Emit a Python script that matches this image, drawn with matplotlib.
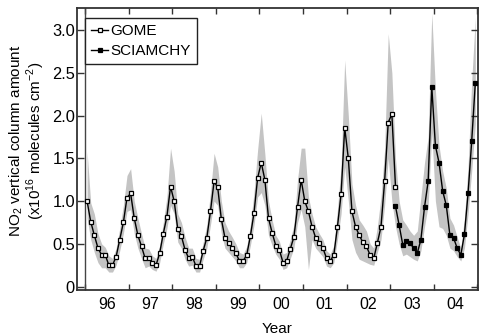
import numpy as np
import matplotlib
matplotlib.use("Agg")
import matplotlib.pyplot as plt

plt.rcParams['font.family'] = ['Liberation Sans', 'DejaVu Sans']
plt.rcParams['mathtext.fontset'] = 'custom'
plt.rcParams['mathtext.rm'] = 'Liberation Sans'

# monthly NO2 columns (1e16 molec/cm2)
gome_start = 1996  # Jan 1996
gome = [
    1.00, 0.76, 0.60, 0.45, 0.37, 0.37, 0.25, 0.25, 0.35, 0.55, 0.75, 1.04,   # 1996
    1.09, 0.80, 0.60, 0.47, 0.33, 0.34, 0.28, 0.25, 0.39, 0.62, 0.82, 1.17,   # 1997
    1.00, 0.67, 0.59, 0.43, 0.33, 0.35, 0.24, 0.24, 0.42, 0.57, 0.88, 1.23,   # 1998
    1.16, 0.79, 0.57, 0.51, 0.45, 0.39, 0.30, 0.30, 0.37, 0.59, 0.86, 1.27,   # 1999
    1.45, 1.25, 0.80, 0.63, 0.48, 0.43, 0.28, 0.30, 0.44, 0.58, 0.93, 1.25,   # 2000
    1.00, 0.88, 0.70, 0.57, 0.51, 0.45, 0.33, 0.30, 0.37, 0.70, 1.08, 1.86,   # 2001
    1.50, 0.88, 0.70, 0.60, 0.52, 0.47, 0.37, 0.33, 0.51, 0.70, 1.23, 1.92,   # 2002
    2.02, 1.17,                                                               # 2003
]
scia_start = 2003 + 1 / 12  # Feb 2003
scia = [
    0.94, 0.72, 0.49, 0.53, 0.51, 0.45, 0.39, 0.55, 0.93, 1.23, 2.34,         # 2003
    1.65, 1.45, 1.12, 0.95, 0.60, 0.57, 0.45, 0.37, 0.61, 1.09, 1.70, 2.38,   # 2004
]

# grey range band, Jan 1996 - Dec 2004
band_hi = [
    1.58, 0.98, 0.85, 0.62, 0.50, 0.46, 0.36, 0.33, 0.45, 0.68, 0.95, 1.30,
    1.38, 1.00, 0.80, 0.62, 0.45, 0.44, 0.36, 0.33, 0.48, 0.75, 1.05, 1.62,
    1.35, 0.85, 0.75, 0.58, 0.45, 0.45, 0.33, 0.32, 0.52, 0.72, 1.10, 1.56,
    1.40, 1.00, 0.75, 0.65, 0.58, 0.50, 0.40, 0.38, 0.47, 0.72, 1.10, 1.60,
    2.03, 1.55, 1.00, 0.78, 0.60, 0.53, 0.38, 0.40, 0.55, 0.72, 1.25, 1.62,
    1.62, 1.05, 0.85, 0.70, 0.62, 0.55, 0.42, 0.38, 0.48, 0.90, 1.40, 2.65,
    2.00, 1.20, 0.95, 0.78, 0.72, 0.65, 0.50, 0.45, 0.70, 1.05, 1.60, 2.96,
    2.50, 1.50, 1.00, 0.78, 0.72, 0.65, 0.60, 0.65, 1.05, 1.45, 1.75, 3.20,
    2.30, 1.65, 1.35, 1.15, 0.80, 0.72, 0.58, 0.45, 0.80, 1.40, 2.40, 3.15,
]
band_lo = [
    0.80, 0.55, 0.40, 0.28, 0.22, 0.22, 0.17, 0.17, 0.25, 0.42, 0.62, 0.88,
    0.90, 0.62, 0.45, 0.33, 0.22, 0.24, 0.20, 0.18, 0.28, 0.50, 0.68, 0.95,
    0.85, 0.52, 0.45, 0.32, 0.24, 0.25, 0.17, 0.17, 0.32, 0.45, 0.72, 1.00,
    0.95, 0.62, 0.45, 0.40, 0.35, 0.30, 0.22, 0.22, 0.28, 0.48, 0.72, 1.05,
    1.10, 0.95, 0.60, 0.48, 0.38, 0.32, 0.20, 0.22, 0.33, 0.45, 0.75, 0.90,
    0.70, 0.20, 0.55, 0.45, 0.40, 0.35, 0.24, 0.22, 0.28, 0.55, 0.85, 1.40,
    1.00, 0.55, 0.40, 0.32, 0.30, 0.28, 0.26, 0.25, 0.40, 0.55, 0.95, 1.50,
    1.00, 0.70, 0.50, 0.36, 0.38, 0.35, 0.32, 0.30, 0.42, 0.70, 0.95, 1.80,
    1.00, 0.70, 0.68, 0.60, 0.45, 0.42, 0.35, 0.30, 0.45, 0.85, 1.35, 1.90,
]

years = [1996, 1997, 1998, 1999, 2000, 2001, 2002, 2003, 2004]
year_labels = ['96', '97', '98', '99', '00', '01', '02', '03', '04']


def month_axis(start, n):
    # mid-month decimal years
    return start + (np.arange(n) + 0.5) / 12.0


t_gome = month_axis(gome_start, len(gome))
t_scia = month_axis(scia_start, len(scia))
t_band = month_axis(1996, len(band_hi))

fig = plt.figure(figsize=(4.84, 3.35), dpi=100)
ax = fig.add_axes([77 / 484, 1 - 290 / 335, 401 / 484, 282 / 335])

ax.fill_between(t_band, band_lo, band_hi, color='#c4c4c4', lw=0, zorder=1)
ax.plot(t_gome, gome, '-s', color='black', lw=1.0, ms=3.5, mfc='white', mec='black',
        mew=0.9, label='GOME', zorder=3)
ax.plot(t_scia, scia, '-s', color='black', lw=1.0, ms=3.5, mfc='black', mec='black',
        mew=0.9, label='SCIAMCHY', zorder=3)
ax.axvline(1996.0, color='#444444', lw=1.0, zorder=2)

ax.set_xlim(1995.81, 2005.02)
ax.set_ylim(-0.04, 3.26)

ax.set_xticks(years + [2005])
ax.set_xticklabels([])
ax.set_xticks([y + 0.5 for y in years], minor=True)
ax.set_xticklabels(year_labels, minor=True)
ax.tick_params(axis='x', which='minor', length=0, pad=5, labelsize=11.5)
ax.tick_params(axis='x', which='major', direction='in', length=4, width=1,
               top=True, color='#333333')
ax.set_yticks([0, 0.5, 1.0, 1.5, 2.0, 2.5, 3.0])
ax.set_yticklabels(['0', '0.5', '1.0', '1.5', '2.0', '2.5', '3.0'])
ax.tick_params(axis='y', direction='in', length=5, width=1, right=True,
               labelsize=11.8, pad=1.5, color='#333333')

for s in ax.spines.values():
    s.set_linewidth(1.3)
    s.set_color('#333333')

ax.set_xlabel('Year', fontsize=11, labelpad=7)
ax.set_ylabel('NO$_2$ vertical column amount\n(x10$^{16}$ molecules cm$^{-2}$)',
              fontsize=11, linespacing=1.0)
ax.yaxis.set_label_coords(-0.075, 0.53)

leg = ax.legend(loc='upper left', bbox_to_anchor=(0.02, 0.965), borderaxespad=0,
                fontsize=11, handlelength=1.1, handletextpad=0.15,
                borderpad=0.4, labelspacing=0.4, fancybox=False,
                edgecolor='#222222', framealpha=1)
leg.get_frame().set_linewidth(1.0)

fig.savefig('out.png', dpi=100)
